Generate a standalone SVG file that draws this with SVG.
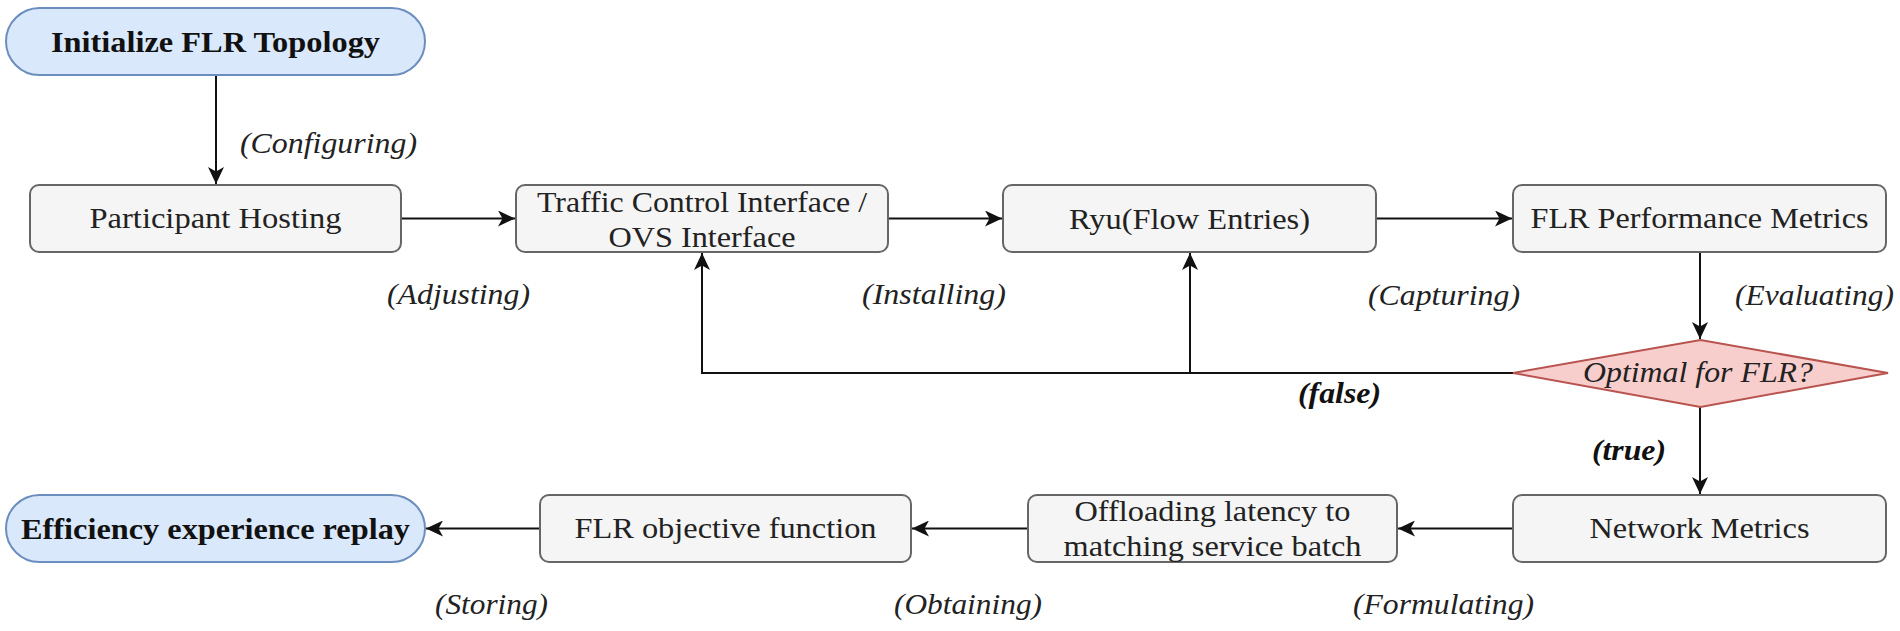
<svg xmlns="http://www.w3.org/2000/svg" width="1900" height="631" viewBox="0 0 1900 631">
<defs>
<style>
text{font-family:"Liberation Serif","Nimbus Roman","Nimbus Roman No9 L","FreeSerif","Tinos","Times New Roman",Times,serif}
.term{fill:#dae8fc;stroke:#6c8ebf;stroke-width:2}
.box{fill:#f5f5f5;stroke:#666666;stroke-width:2}
.dec{fill:#f8cecc;stroke:#b85450;stroke-width:2}
.t{font-size:30px;fill:#222222;text-anchor:middle}
.b{font-weight:bold;fill:#111111}
.lbl{font-size:30px;font-style:italic;fill:#222222}
.lb{font-weight:bold;fill:#111111}
.c{fill:none;stroke:#111111;stroke-width:2}
</style>
<marker id="arr" markerUnits="userSpaceOnUse" markerWidth="18" markerHeight="16" refX="17" refY="8" orient="auto" viewBox="0 0 18 16">
<path d="M0,0 L17,8 L0,16 L4.5,8 Z" fill="#111111"/>
</marker>
</defs>
<rect width="1900" height="631" fill="#ffffff"/>

<g id="connectors">
<path class="c" d="M216,75 V184" marker-end="url(#arr)"/>
<path class="c" d="M401,218.5 H515" marker-end="url(#arr)"/>
<path class="c" d="M888,218.5 H1002" marker-end="url(#arr)"/>
<path class="c" d="M1376,218.5 H1512" marker-end="url(#arr)"/>
<path class="c" d="M1700,252 V339" marker-end="url(#arr)"/>
<path class="c" d="M1513,373 H702 V253" marker-end="url(#arr)"/>
<path class="c" d="M1190,373 V253" marker-end="url(#arr)"/>
<path class="c" d="M1700,407 V494" marker-end="url(#arr)"/>
<path class="c" d="M1513,528.5 H1398" marker-end="url(#arr)"/>
<path class="c" d="M1028,528.5 H912" marker-end="url(#arr)"/>
<path class="c" d="M540,528.5 H426" marker-end="url(#arr)"/>
</g>

<g id="labels">
<text class="lbl" x="240" y="153" textLength="177" lengthAdjust="spacingAndGlyphs">(Configuring)</text>
<text class="lbl" x="387" y="304" textLength="143" lengthAdjust="spacingAndGlyphs">(Adjusting)</text>
<text class="lbl" x="862" y="304" textLength="144" lengthAdjust="spacingAndGlyphs">(Installing)</text>
<text class="lbl" x="1368" y="305" textLength="152" lengthAdjust="spacingAndGlyphs">(Capturing)</text>
<text class="lbl" x="1735" y="305" textLength="159" lengthAdjust="spacingAndGlyphs">(Evaluating)</text>
<text class="lbl lb" x="1298" y="403" textLength="83" lengthAdjust="spacingAndGlyphs">(false)</text>
<text class="lbl lb" x="1592" y="460" textLength="74" lengthAdjust="spacingAndGlyphs">(true)</text>
<text class="lbl" x="435" y="614" textLength="113" lengthAdjust="spacingAndGlyphs">(Storing)</text>
<text class="lbl" x="894" y="614" textLength="148" lengthAdjust="spacingAndGlyphs">(Obtaining)</text>
<text class="lbl" x="1353" y="614" textLength="181" lengthAdjust="spacingAndGlyphs">(Formulating)</text>
</g>

<g id="start">
<rect class="term" x="6" y="8" width="419" height="67" rx="33.5"/>
<text class="t b" x="215.5" y="52" textLength="329" lengthAdjust="spacingAndGlyphs">Initialize FLR Topology</text>
</g>
<g id="participant-hosting">
<rect class="box" x="30" y="185" width="371" height="67" rx="9"/>
<text class="t" x="215.5" y="228" textLength="252" lengthAdjust="spacingAndGlyphs">Participant Hosting</text>
</g>
<g id="tci">
<rect class="box" x="516" y="185" width="372" height="67" rx="9"/>
<text class="t" x="702" y="212" textLength="330" lengthAdjust="spacingAndGlyphs">Traffic Control Interface /</text>
<text class="t" x="702" y="247" textLength="187" lengthAdjust="spacingAndGlyphs">OVS Interface</text>
</g>
<g id="ryu">
<rect class="box" x="1003" y="185" width="373" height="67" rx="9"/>
<text class="t" x="1189.5" y="229" textLength="241" lengthAdjust="spacingAndGlyphs">Ryu(Flow Entries)</text>
</g>
<g id="flr-performance">
<rect class="box" x="1513" y="185" width="373" height="67" rx="9"/>
<text class="t" x="1699.5" y="228" textLength="338" lengthAdjust="spacingAndGlyphs">FLR Performance Metrics</text>
</g>
<g id="optimal">
<polygon class="dec" points="1513,373 1700.5,340 1888,373 1700.5,407"/>
<text class="t" x="1698" y="382" style="font-style:italic" textLength="230" lengthAdjust="spacingAndGlyphs">Optimal for FLR?</text>
</g>
<g id="network-metrics">
<rect class="box" x="1513" y="495" width="373" height="67" rx="9"/>
<text class="t" x="1699.5" y="538" textLength="220" lengthAdjust="spacingAndGlyphs">Network Metrics</text>
</g>
<g id="offloading">
<rect class="box" x="1028" y="495" width="369" height="67" rx="9"/>
<text class="t" x="1212.5" y="521" textLength="276" lengthAdjust="spacingAndGlyphs">Offloading latency to</text>
<text class="t" x="1212.5" y="556" textLength="298" lengthAdjust="spacingAndGlyphs">matching service batch</text>
</g>
<g id="flr-objective">
<rect class="box" x="540" y="495" width="371" height="67" rx="9"/>
<text class="t" x="725.5" y="538" textLength="302" lengthAdjust="spacingAndGlyphs">FLR objective function</text>
</g>
<g id="efficiency">
<rect class="term" x="6" y="495" width="419" height="67" rx="33.5"/>
<text class="t b" x="215.5" y="539" textLength="389" lengthAdjust="spacingAndGlyphs">Efficiency experience replay</text>
</g>
</svg>
